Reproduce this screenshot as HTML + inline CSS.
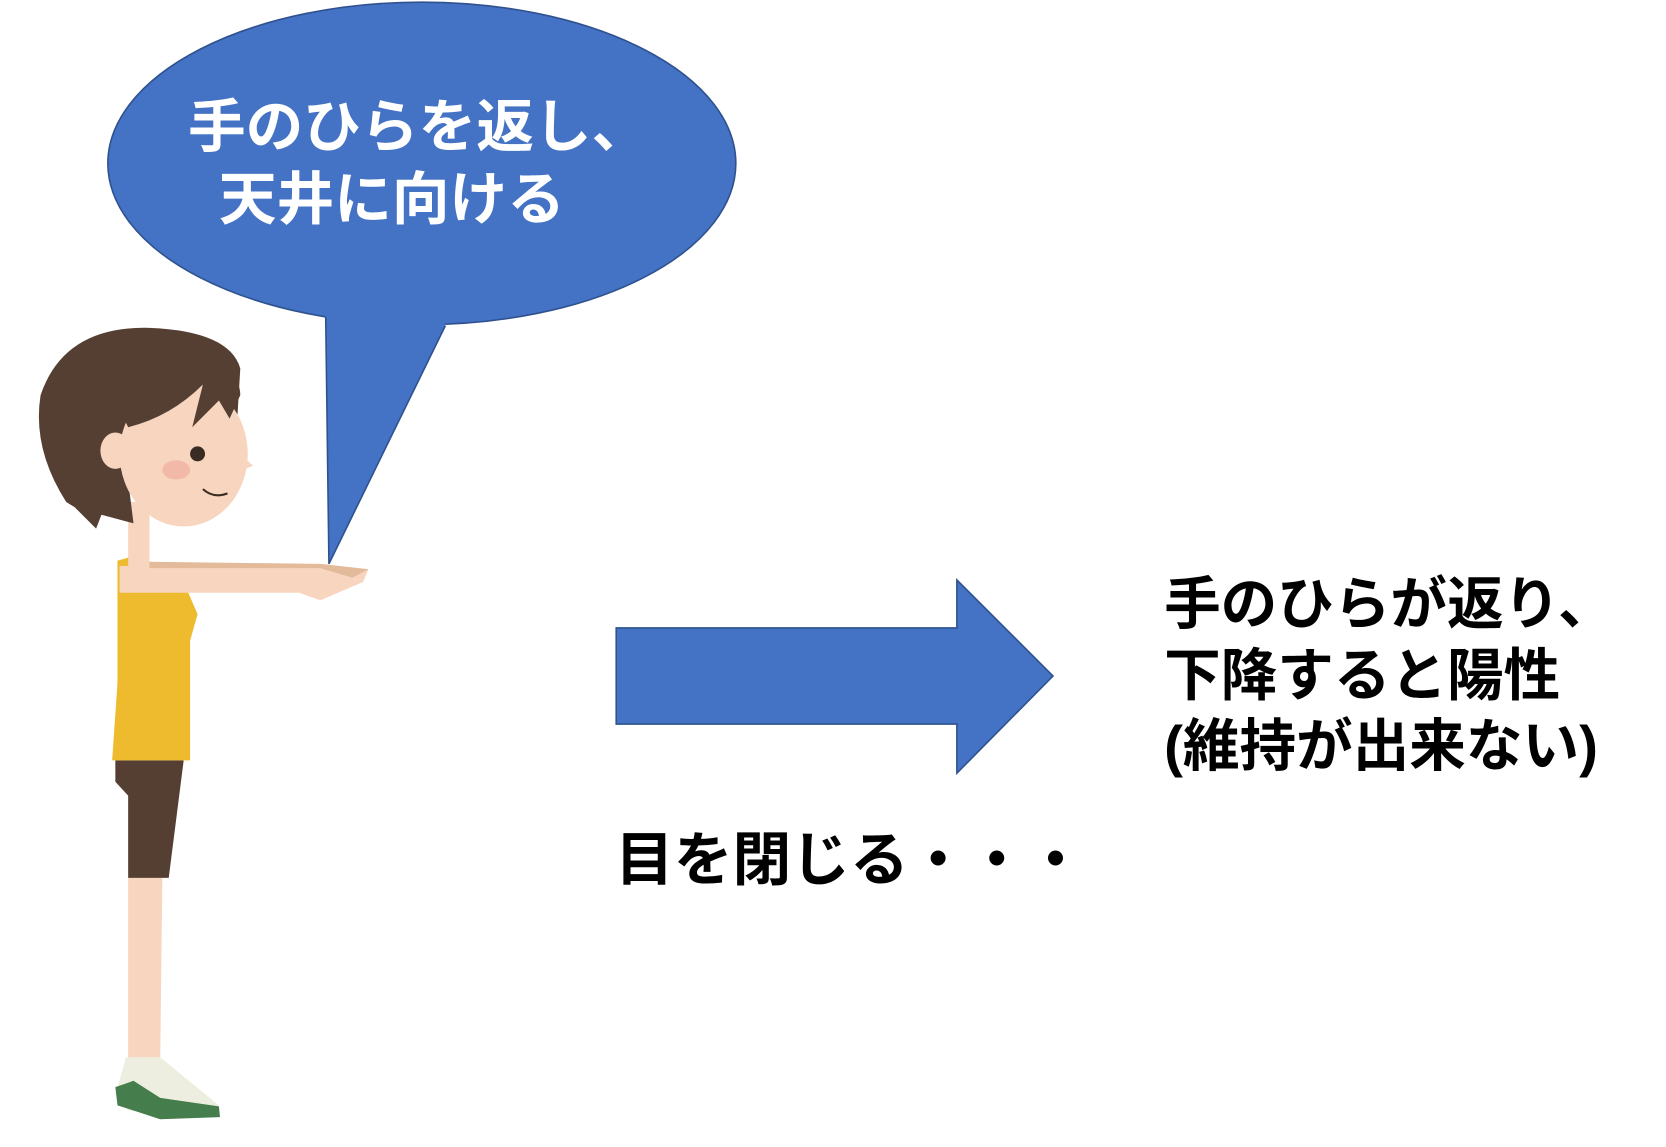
<!DOCTYPE html>
<html><head><meta charset="utf-8"><style>
html,body{margin:0;padding:0;background:#fff;width:1666px;height:1147px;overflow:hidden}
svg{display:block}
text{font-family:"Liberation Sans","Noto Sans CJK JP",sans-serif;font-weight:bold}
</style></head><body>
<svg width="1666" height="1147" viewBox="0 0 1560 1074" xmlns="http://www.w3.org/2000/svg">
<!-- bubble -->
<ellipse cx="395" cy="153" rx="294" ry="151" fill="#4472c4" stroke="#2f528f" stroke-width="1.5"/>
<polygon points="305,290 417,290 417,305 308,528 305,297" fill="#4472c4"/>
<polyline points="305,297 308,528 417,305" fill="none" stroke="#2f528f" stroke-width="1.5"/>
<text fill="#fff" font-size="54" x="176" y="137">手のひらを返し、</text>
<text fill="#fff" font-size="54" x="205" y="205">天井に向ける</text>
<!-- arrow -->
<polygon points="577,588 896,588 896,543 986,633 896,724 896,678 577,678" fill="#4472c4" stroke="#2f528f" stroke-width="1.5"/>
<text fill="#000" font-size="55" x="576" y="824">目を閉じる・・・</text>
<text fill="#000" font-size="53" x="1090" y="584">手のひらが返り、</text>
<text fill="#000" font-size="53" x="1090" y="651">下降すると陽性</text>
<text fill="#000" font-size="53" x="1090" y="717">(維持が出来ない)</text>
<!-- figure -->
<path d="M120,822 L152,822 L150,995 L120,995 Z" fill="#f7d5bf"/>
<path d="M118,990 L150,990 L205,1035 L200,1045 L120,1040 L108,1025 Z" fill="#eeeee0"/>
<path d="M108,1018 L125,1012 L150,1028 L205,1036 L206,1046 L150,1048 L110,1035 Z" fill="#457e4c"/>
<path d="M108,712 L172,712 L158,822 L120,822 L120,745 L108,732 Z" fill="#553f32"/>
<path d="M110,525 L128,520 L175,552 L185,575 L178,600 L178,712 L105,712 L110,640 Z" fill="#eebb2e"/>
<rect x="120" y="470" width="20" height="62" fill="#f7d5bf"/>
<path d="M112,530 L300,528 L345,533 L340,545 L300,562 L280,555 L112,555 Z" fill="#f7d5bf"/>
<path d="M140,526 L300,528 L345,533 L330,541 L300,532 L140,532 Z" fill="#e3bb9a"/>
<path d="M62,470 Q30,420 38,370 Q60,305 140,307 Q215,310 225,345 L222,395 L120,450 L125,490 L95,482 L90,495 L70,475 Z" fill="#553f32"/>
<ellipse cx="172" cy="425" rx="60" ry="68" fill="#f7d5bf"/>
<path d="M230,430 L237,436 L228,440 Z" fill="#f7d5bf"/>
<path d="M110,380 Q140,330 200,340 Q225,350 225,370 L215,392 L205,375 L180,400 L190,360 Q160,390 120,400 Z" fill="#553f32"/>
<ellipse cx="108" cy="422" rx="14" ry="17" fill="#f7d5bf"/>
<circle cx="185" cy="425" r="7" fill="#3a2c22"/>
<ellipse cx="165" cy="440" rx="13" ry="9" fill="#f2b9a8"/>
<path d="M190,458 Q200,467 213,462" stroke="#3a2c22" stroke-width="2" fill="none"/>
</svg>
</body></html>
